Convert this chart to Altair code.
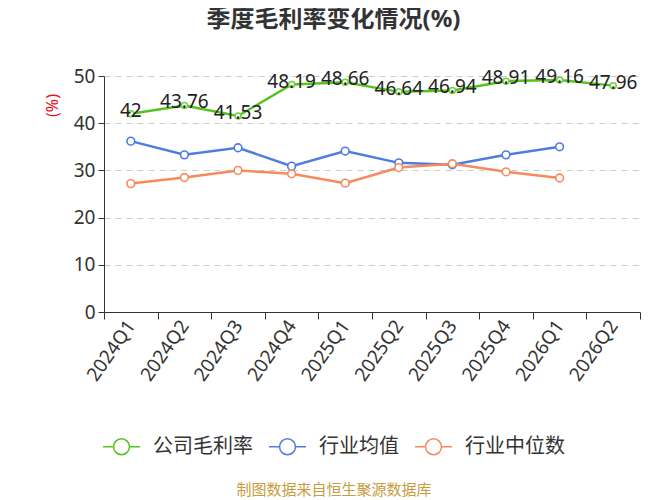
import altair as alt
import pandas as pd

quarters = ["2024Q1", "2024Q2", "2024Q3", "2024Q4", "2025Q1", "2025Q2",
            "2025Q3", "2025Q4", "2026Q1", "2026Q2"]
company = [42, 43.76, 41.53, 48.19, 48.66, 46.64, 46.94, 48.91, 49.16, 47.96]
ind_mean = [36.2, 33.3, 34.8, 30.9, 34.1, 31.6, 31.2, 33.3, 35.0, None]
ind_median = [27.2, 28.5, 30.0, 29.3, 27.3, 30.6, 31.4, 29.7, 28.4, None]

series_names = ["公司毛利率", "行业均值", "行业中位数"]
series_colors = ["#52c41a", "#4e7ddf", "#f58b5c"]

title_text = "季度毛利率变化情况(%)"
footer_text = "制图数据来自恒生聚源数据库"

rows = []
for name, vals in zip(series_names, [company, ind_mean, ind_median]):
    for q, v in zip(quarters, vals):
        if v is not None:
            rows.append({"季度": q, "系列": name, "值": v})
df = pd.DataFrame(rows)

FONT = "Noto Sans, Noto Sans CJK SC"

xenc = alt.X("季度:N", sort=quarters,
             scale=alt.Scale(type="band", paddingInner=0, paddingOuter=0),
             axis=alt.Axis(title=None, labelAngle=-55, labelFontSize=19,
                           labelColor="#333", domainColor="#333", tickColor="#333",
                           tickSize=7, tickBand="extent", labelPadding=3,
                           grid=False, labelFont=FONT))
yenc = alt.Y("值:Q", scale=alt.Scale(domain=[0, 50]),
             axis=alt.Axis(title="(%)", titleColor="#e8101a", titleFontSize=16,
                           titleFontWeight="normal", titleX=-52, titleY=29,
                           titleAlign="center", titleBaseline="middle",
                           values=[0, 10, 20, 30, 40, 50], labelFontSize=19,
                           labelColor="#333", domainColor="#333", tickColor="#333",
                           tickSize=6, gridColor="#cccccc", gridDash=[6, 5],
                           labelPadding=3, labelFont=FONT, titleFont=FONT))

legend_symbol = ("M-1,0L-0.43,0M0.43,0L1,0M0.43,0A0.43,0.43,0,1,1,-0.43,0"
                 "A0.43,0.43,0,1,1,0.43,0")

color_scale = alt.Scale(domain=series_names, range=series_colors)

lines = alt.Chart(df).mark_line(strokeWidth=2.5).encode(
    x=xenc, y=yenc,
    color=alt.Color("系列:N", scale=color_scale,
                    legend=alt.Legend(title=None, orient="none", direction="horizontal",
                                      legendX=-2, legendY=351, symbolType=legend_symbol,
                                      symbolSize=1369, symbolStrokeWidth=1.5,
                                      symbolFillColor="white", labelFontSize=20,
                                      labelColor="#333", labelFont=FONT,
                                      columnPadding=13, labelOffset=12)),
)

green_points = alt.Chart(df).transform_filter(
    alt.datum["系列"] == "公司毛利率"
).mark_point(shape="circle", filled=False, fill="white", strokeWidth=1.5,
             opacity=1, size=36, color="#6fd33a").encode(x=xenc, y=yenc)

other_points = alt.Chart(df).transform_filter(
    alt.datum["系列"] != "公司毛利率"
).mark_point(shape="circle", filled=False, fill="white", strokeWidth=1.6,
             opacity=1, size=60).encode(
    x=xenc, y=yenc,
    stroke=alt.Stroke("系列:N", scale=color_scale, legend=None),
)

labels = alt.Chart(df).transform_filter(alt.datum["系列"] == "公司毛利率").mark_text(
    fontSize=19, color="#222", baseline="middle", dy=-3, font=FONT
).encode(x=xenc, y=yenc, text=alt.Text("值:Q"))

texts = pd.DataFrame({"t": [title_text], "f": [footer_text]})

title_mark = alt.Chart(texts).mark_text(
    fontSize=24, fontWeight="bold", color="#333", font=FONT, baseline="middle"
).encode(x=alt.value(229.5), y=alt.value(-56), text="t:N")

footer = alt.Chart(texts).mark_text(
    fontSize=15, color="#c89b3c", font=FONT, baseline="middle"
).encode(x=alt.value(230), y=alt.value(414), text="f:N")

chart = alt.layer(lines, other_points, green_points, labels, title_mark, footer).properties(
    width=536, height=236,
    autosize=alt.AutoSizeParams(type="none"),
    padding={"left": 96, "top": 68, "right": 19, "bottom": 188},
).configure_view(stroke=None)

chart.save("out.html", embed_options={"renderer": "svg", "actions": False})
